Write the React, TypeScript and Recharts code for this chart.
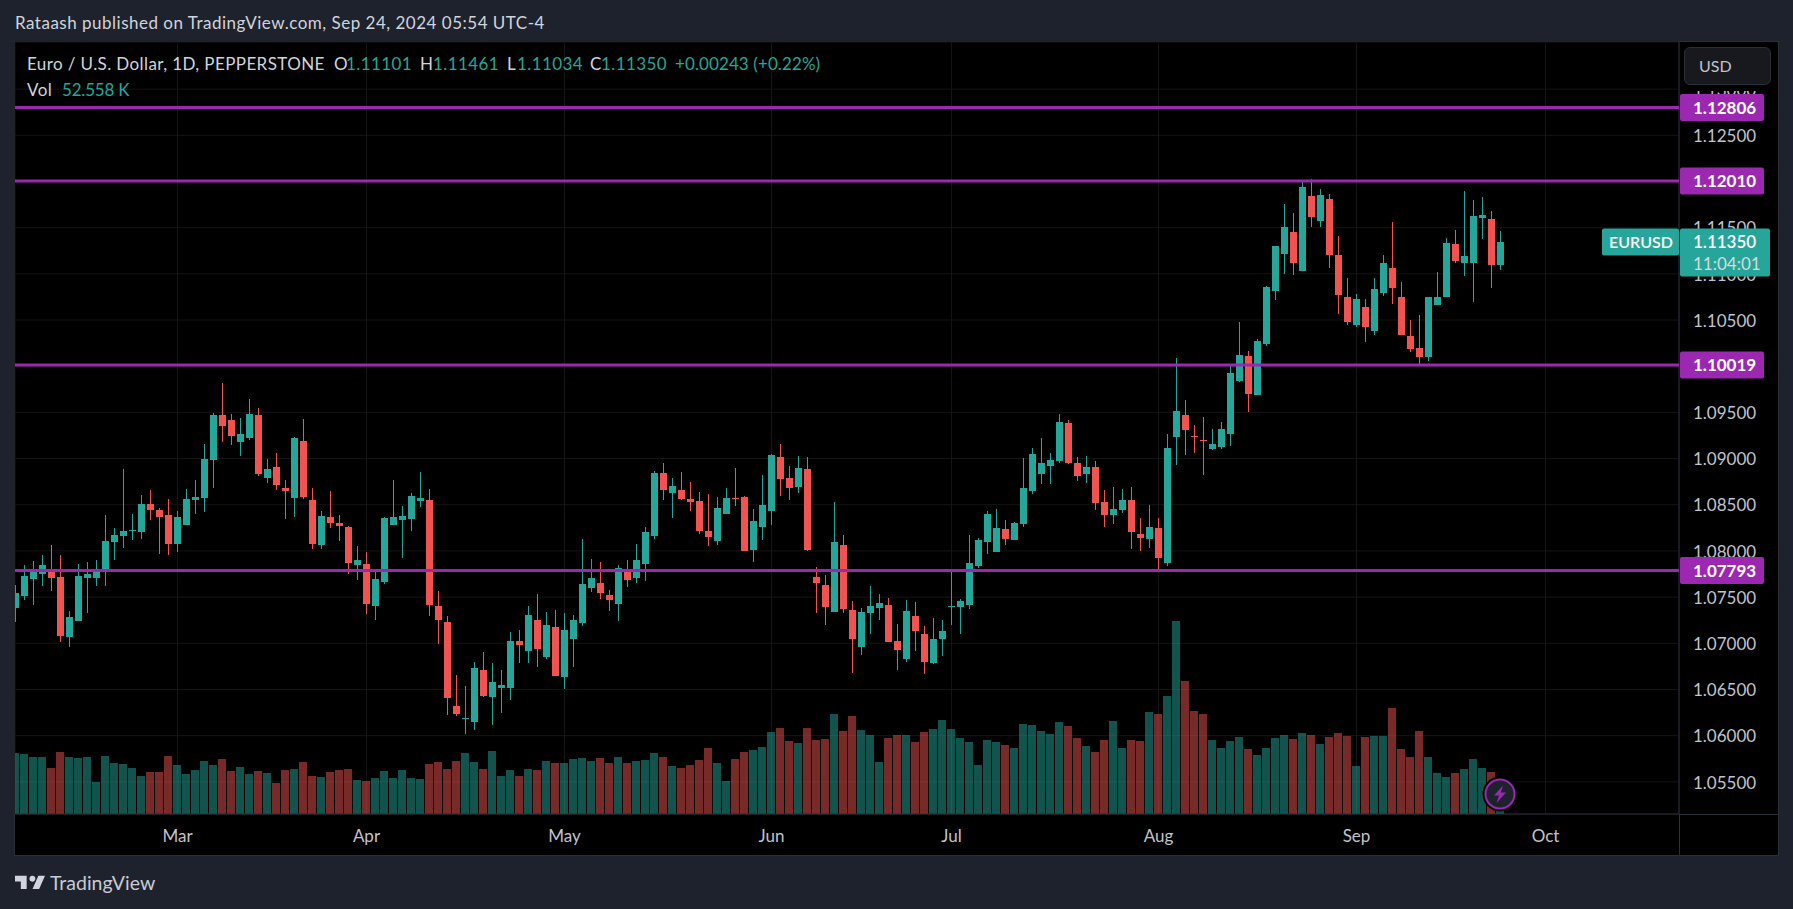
import React from 'react';
import { Bar, CartesianGrid, ComposedChart, ReferenceLine, XAxis, YAxis } from 'recharts';

const opens = [
  1.07381, 1.07507, 1.07691, 1.07746, 1.07778, 1.07713, 1.07063, 1.07236, 1.07702, 1.07702,
  1.07778, 1.08092, 1.08157, 1.08211, 1.082, 1.08504, 1.08439, 1.08384, 1.0807, 1.08276,
  1.08547, 1.08569, 1.0898, 1.09467, 1.09413, 1.09175, 1.09218, 1.09467, 1.08785, 1.08904,
  1.08677, 1.08569, 1.09186, 1.08547, 1.0806, 1.08363, 1.08298, 1.08255, 1.07852, 1.07863,
  1.07408, 1.07668, 1.08285, 1.08339, 1.0835, 1.08545, 1.08556, 1.07408, 1.07235, 1.06325,
  1.06184, 1.06152, 1.06715, 1.06422, 1.0652, 1.0652, 1.07029, 1.06921, 1.07256, 1.06856,
  1.07181, 1.06639, 1.07051, 1.07224, 1.07603, 1.07657, 1.07527, 1.0743, 1.07809, 1.07711,
  1.07863, 1.08166, 1.08848, 1.08632, 1.08664, 1.08567, 1.08545, 1.0822, 1.08112, 1.08404,
  1.08578, 1.08588, 1.08014, 1.08264, 1.08437, 1.09022, 1.08794, 1.08697, 1.08892, 1.07722,
  1.07635, 1.07343, 1.08069, 1.07365, 1.06964, 1.07332, 1.07386, 1.07419, 1.07029, 1.06834,
  1.073, 1.07105, 1.06791, 1.07051, 1.07397, 1.07397, 1.07419, 1.07841, 1.08101, 1.07993,
  1.08242, 1.08123, 1.08296, 1.08653, 1.0883, 1.08917, 1.08971, 1.09384, 1.08949, 1.0883,
  1.08906, 1.08535, 1.08387, 1.0844, 1.08546, 1.08184, 1.08131, 1.08248, 1.07865, 1.09232,
  1.09471, 1.09243, 1.09199, 1.09101, 1.09123, 1.09264, 1.0984, 1.10111, 1.09688, 1.10242,
  1.10817, 1.1122, 1.11448, 1.11036, 1.11839, 1.11568, 1.11807, 1.11199, 1.10753, 1.10449,
  1.10645, 1.10384, 1.10797, 1.11068, 1.10753, 1.1033, 1.102, 1.10102, 1.10667, 1.10753,
  1.11318, 1.11112, 1.11112, 1.116, 1.1159, 1.11101,
];

const highs = [
  1.07626, 1.07843, 1.07886, 1.07951, 1.0806, 1.07951, 1.07345, 1.07854, 1.07875, 1.07897,
  1.08384, 1.08244, 1.08883, 1.08395, 1.08601, 1.08655, 1.0846, 1.08558, 1.08428, 1.08666,
  1.08764, 1.09153, 1.09489, 1.09814, 1.09478, 1.09435, 1.09641, 1.09543, 1.08991, 1.09056,
  1.08764, 1.09229, 1.09424, 1.08677, 1.08428, 1.08644, 1.08384, 1.08265, 1.08058, 1.07993,
  1.07798, 1.08372, 1.08773, 1.08491, 1.08632, 1.08859, 1.08675, 1.0757, 1.073, 1.06661,
  1.06542, 1.06801, 1.0691, 1.06791, 1.06715, 1.07126, 1.07148, 1.07408, 1.07538, 1.07343,
  1.07365, 1.07332, 1.0731, 1.08134, 1.07917, 1.07884, 1.07581, 1.07852, 1.07906, 1.08079,
  1.08264, 1.0887, 1.08957, 1.08794, 1.08859, 1.08751, 1.08643, 1.08621, 1.08588, 1.08686,
  1.08903, 1.08599, 1.08458, 1.08827, 1.09054, 1.09162, 1.08924, 1.09032, 1.09022, 1.0783,
  1.07744, 1.08534, 1.08177, 1.07462, 1.07386, 1.07625, 1.07538, 1.07495, 1.07213, 1.07473,
  1.07451, 1.07191, 1.07278, 1.07256, 1.07776, 1.07484, 1.08177, 1.08144, 1.08437, 1.08458,
  1.08339, 1.08318, 1.09011, 1.09119, 1.09221, 1.09058, 1.09481, 1.09416, 1.09014, 1.09025,
  1.08971, 1.08663, 1.08695, 1.08674, 1.08695, 1.08355, 1.08493, 1.08355, 1.09264, 1.1009,
  1.09634, 1.09362, 1.09449, 1.09319, 1.09395, 1.10003, 1.10481, 1.10166, 1.10296, 1.10872,
  1.11306, 1.11753, 1.11655, 1.12013, 1.12024, 1.11915, 1.11861, 1.11405, 1.1096, 1.10786,
  1.10732, 1.1096, 1.11199, 1.11557, 1.10916, 1.10504, 1.10558, 1.10753, 1.11025, 1.11383,
  1.1147, 1.11894, 1.11796, 1.11829, 1.11677, 1.11461,
];

const lows = [
  1.07229, 1.07464, 1.0741, 1.07616, 1.07561, 1.07009, 1.06955, 1.07236, 1.07323, 1.07616,
  1.07616, 1.07897, 1.08027, 1.08114, 1.08125, 1.0833, 1.07962, 1.07951, 1.07984, 1.08276,
  1.08395, 1.08417, 1.08677, 1.09175, 1.09143, 1.09023, 1.09197, 1.08807, 1.08731, 1.08655,
  1.08341, 1.08363, 1.08558, 1.08016, 1.08016, 1.08244, 1.08103, 1.07746, 1.0769, 1.07321,
  1.07256, 1.07646, 1.08285, 1.07928, 1.0822, 1.0848, 1.073, 1.06996, 1.06227, 1.06217,
  1.06018, 1.06061, 1.06422, 1.06119, 1.06249, 1.0639, 1.06791, 1.06791, 1.06747, 1.06834,
  1.0665, 1.06509, 1.06747, 1.07191, 1.0756, 1.07484, 1.07354, 1.07246, 1.07614, 1.07657,
  1.07679, 1.08134, 1.08556, 1.08361, 1.08556, 1.08437, 1.08188, 1.08058, 1.08069, 1.08404,
  1.08491, 1.08004, 1.07884, 1.08123, 1.08285, 1.08599, 1.08556, 1.08632, 1.08004, 1.07332,
  1.07202, 1.07343, 1.07332, 1.06682, 1.06877, 1.07105, 1.07256, 1.07018, 1.06715, 1.06801,
  1.06921, 1.06672, 1.0678, 1.06866, 1.07202, 1.07105, 1.07375, 1.07819, 1.07971, 1.07993,
  1.08069, 1.08123, 1.08264, 1.08621, 1.08721, 1.08721, 1.08949, 1.08938, 1.08754, 1.08732,
  1.0844, 1.08259, 1.08291, 1.08418, 1.08025, 1.07993, 1.08025, 1.07791, 1.07833, 1.08928,
  1.09036, 1.09058, 1.08819, 1.0909, 1.09101, 1.09134, 1.09829, 1.09503, 1.09688, 1.1022,
  1.1072, 1.10992, 1.10981, 1.11025, 1.11503, 1.11503, 1.11057, 1.10558, 1.10449, 1.10428,
  1.10265, 1.10341, 1.10753, 1.10667, 1.10341, 1.10156, 1.10026, 1.10058, 1.10667, 1.10743,
  1.11112, 1.10971, 1.10688, 1.11372, 1.1084, 1.11034,
];

const closes = [
  1.0754, 1.07724, 1.07778, 1.07843, 1.07702, 1.07074, 1.0728, 1.07724, 1.07746, 1.078,
  1.08103, 1.08168, 1.08211, 1.08222, 1.08504, 1.08439, 1.08363, 1.0807, 1.08363, 1.08558,
  1.08579, 1.08991, 1.09467, 1.09348, 1.0924, 1.09262, 1.09478, 1.08829, 1.08883, 1.08709,
  1.08644, 1.09218, 1.08579, 1.0807, 1.08374, 1.08298, 1.08265, 1.07865, 1.07906, 1.0743,
  1.077, 1.08361, 1.08372, 1.08383, 1.08599, 1.08578, 1.07419, 1.07256, 1.06412, 1.06238,
  1.06195, 1.06736, 1.06433, 1.06585, 1.06552, 1.07029, 1.06986, 1.0731, 1.06942, 1.07202,
  1.0665, 1.07148, 1.07256, 1.07646, 1.07711, 1.07549, 1.07473, 1.07819, 1.0769, 1.07906,
  1.08209, 1.08848, 1.08664, 1.08708, 1.08567, 1.08534, 1.0822, 1.08155, 1.08469, 1.08578,
  1.08567, 1.08004, 1.08329, 1.08502, 1.09043, 1.08783, 1.08686, 1.08903, 1.08014, 1.07657,
  1.07397, 1.08101, 1.07375, 1.07051, 1.07343, 1.07408, 1.0744, 1.07018, 1.06931, 1.07354,
  1.07137, 1.06801, 1.07051, 1.07137, 1.07408, 1.07462, 1.07874, 1.08123, 1.08404, 1.08253,
  1.08134, 1.08307, 1.08686, 1.09054, 1.08949, 1.08982, 1.09395, 1.08949, 1.08808, 1.08906,
  1.08514, 1.08387, 1.0845, 1.08546, 1.08206, 1.08142, 1.08259, 1.07918, 1.09112, 1.09514,
  1.09308, 1.09232, 1.09188, 1.09156, 1.09319, 1.09927, 1.10122, 1.09699, 1.10274, 1.10861,
  1.11306, 1.11503, 1.11112, 1.11937, 1.11611, 1.1185, 1.11199, 1.10775, 1.10482, 1.10732,
  1.10428, 1.1084, 1.11112, 1.10851, 1.10341, 1.10189, 1.10102, 1.10753, 1.10753, 1.11329,
  1.11134, 1.11188, 1.11622, 1.11633, 1.11101, 1.1135,
];

// tick volume in thousands
const volumes = [
  213.5, 210, 199.5, 199.5, 161, 217, 199.5, 196, 199.5, 112,
  203, 178.5, 175, 161, 133, 147, 147, 203, 171.5, 140,
  154, 185.5, 171.5, 192.5, 150.5, 164.5, 140, 150.5, 143.5, 108.5,
  154, 157.5, 182, 133, 129.5, 147, 154, 157.5, 119, 115.5,
  126, 150.5, 126, 154, 126, 122.5, 175, 182, 157.5, 185.5,
  213.5, 182, 157.5, 220.5, 133, 154, 133, 157.5, 154, 185.5,
  178.5, 178.5, 192.5, 196, 185.5, 196, 178.5, 199.5, 178.5, 185.5,
  189, 213.5, 199.5, 168, 161, 171.5, 189, 231, 178.5, 115.5,
  192.5, 217, 224, 234.5, 287, 301, 255.5, 248.5, 301, 259,
  262.5, 350, 290.5, 343, 294, 276.5, 182, 266, 276.5, 276.5,
  252, 287, 297.5, 329, 297.5, 266, 252, 171.5, 259, 252,
  241.5, 231, 315, 311.5, 290.5, 280, 322, 308, 266, 238,
  217, 259, 325.5, 231, 259, 255.5, 357, 350, 413, 675.5,
  465.5, 360.5, 350, 259, 231, 255.5, 269.5, 227.5, 206.5, 231,
  266, 276.5, 262.5, 283.5, 276.5, 245, 269.5, 283.5, 273, 168,
  269.5, 273, 273, 371, 227.5, 199.5, 290.5, 199.5, 143.5, 129.5,
  143.5, 157.5, 192.5, 161, 147, 52.558,
];

const monthTicks = [18, 39, 61, 84, 104, 127, 149, 170];
const monthLabels = ['Mar', 'Apr', 'May', 'Jun', 'Jul', 'Aug', 'Sep', 'Oct'];
const priceTicks = [1.055, 1.06, 1.065, 1.07, 1.075, 1.08, 1.085, 1.09, 1.095, 1.1, 1.105, 1.11, 1.115, 1.12, 1.125, 1.13];
const levels = [1.12806, 1.1201, 1.10019, 1.07793];

const UP = '#26a69a';
const DOWN = '#f05350';
const PURPLE = '#9c27b0';
const PAGE = '#1e222d';
const EDGE = '#2a2e39';
const AXIS_TEXT = '#c0c3cb';
const FONT = 'Lato, sans-serif';
const PRICE_DOMAIN = [1.051516, 1.135102];

const data = opens.map((open, i) => ({
  index: i,
  open,
  high: highs[i],
  low: lows[i],
  close: closes[i],
  volume: volumes[i],
}));

// x comes in 3.5px left of the candle centre, so the 7px body starts right on it
const Candle = (props: any) => {
  const { x, y, height, payload } = props;
  const { open, high, low, close } = payload;
  const left = Math.round(x);
  const perUnit = Math.abs(height) / (high - low);
  const top = Math.min(y, y + height);
  const bodyTop = Math.round(top + (high - Math.max(open, close)) * perUnit);
  const bodyBottom = Math.round(top + (high - Math.min(open, close)) * perUnit);
  const fill = close >= open ? UP : DOWN;
  return (
    <g shapeRendering="crispEdges">
      <rect x={left + 3} y={Math.round(top)} width={1} height={Math.round(Math.abs(height))} fill={fill} />
      <rect x={left} y={bodyTop} width={7} height={Math.max(1, bodyBottom - bodyTop)} fill={fill} />
    </g>
  );
};

const VolumeBar = (props: any) => {
  const { x, y, height, payload } = props;
  return (
    <rect
      x={Math.round(x) - 1}
      y={Math.round(y)}
      width={8}
      height={Math.round(height)}
      fill={payload.close >= payload.open ? UP : DOWN}
      fillOpacity={0.5}
      shapeRendering="crispEdges"
    />
  );
};

const PriceTag = (props: any) => {
  const { viewBox, price } = props;
  const y = viewBox.y;
  const left = viewBox.x + viewBox.width + 1;
  return (
    <g>
      <rect x={left} y={y - 13.5} width={84} height={27} rx={2} fill={PURPLE} />
      <text x={left + 13} y={y + 6} fill="#fff" fontFamily={FONT} fontWeight={700} fontSize={17}>
        {price.toFixed(5)}
      </text>
    </g>
  );
};

const LastPriceTag = (props: any) => {
  const { viewBox, price } = props;
  const y = viewBox.y;
  const axisX = viewBox.x + viewBox.width;
  return (
    <g fontFamily={FONT} fontSize={17}>
      <rect x={axisX - 77} y={y - 13.5} width={77} height={27} rx={2} fill={UP} />
      <text x={axisX - 70} y={y + 6} fill="#fff" fontWeight={600} fontSize={16}>EURUSD</text>
      <rect x={axisX + 1} y={y - 13.5} width={90} height={48} rx={2} fill={UP} />
      <text x={axisX + 14} y={y + 6} fill="#fff" fontWeight={600}>{price.toFixed(5)}</text>
      <text x={axisX + 14} y={y + 28} fill="#d5dbdb">11:04:01</text>
    </g>
  );
};

const Legend = () => {
  const label = { color: '#d1d4dc' };
  const value = { color: UP };
  const pos = (left: number, top: number): React.CSSProperties => ({ position: 'absolute', left, top, whiteSpace: 'pre' });
  return (
    <div style={{ position: 'absolute', left: 0, top: 0, fontFamily: FONT, fontSize: 17, lineHeight: '20px', letterSpacing: 0.4 }}>
      <span style={{ ...pos(27, 54), ...label }}>Euro / U.S. Dollar, 1D, PEPPERSTONE</span>
      <span style={{ ...pos(334, 54), ...label }}>O</span>
      <span style={{ ...pos(346, 54), ...value }}>1.11101</span>
      <span style={{ ...pos(420, 54), ...label }}>H</span>
      <span style={{ ...pos(433, 54), ...value }}>1.11461</span>
      <span style={{ ...pos(507, 54), ...label }}>L</span>
      <span style={{ ...pos(517, 54), ...value }}>1.11034</span>
      <span style={{ ...pos(590, 54), ...label }}>C</span>
      <span style={{ ...pos(601, 54), ...value }}>1.11350</span>
      <span style={{ ...pos(675, 54), ...value, letterSpacing: 0.1 }}>+0.00243 (+0.22%)</span>
      <span style={{ ...pos(27, 80), ...label }}>Vol</span>
      <span style={{ ...pos(62, 80), ...value, letterSpacing: -0.2 }}>52.558 K</span>
    </div>
  );
};

const ZapBadge = () => (
  <svg width={36} height={36} viewBox="0 0 36 36" style={{ position: 'absolute', left: 1482, top: 776 }}>
    <circle cx={18} cy={18} r={17.5} fill="#000" />
    <circle cx={18} cy={18} r={14.5} fill={PAGE} stroke={PURPLE} strokeWidth={2} />
    <path d="M21 9.5 12 19.5h5l-2.5 7.5 9.5-10.5h-5.2L21 9.5Z" fill={PURPLE} />
  </svg>
);

const App = () => (
  <div style={{ position: 'absolute', left: 0, top: 0, width: 1793, height: 909, background: PAGE, overflow: 'hidden' }}>
    <div style={{ position: 'absolute', left: 15, top: 14, color: '#d1d4dc', fontFamily: FONT, fontSize: 17, letterSpacing: 0.5, lineHeight: '18px', whiteSpace: 'pre' }}>
      Rataash published on TradingView.com, Sep 24, 2024 05:54 UTC-4
    </div>
    <div style={{ position: 'absolute', left: 14, top: 41, width: 1763, height: 813, background: '#000', border: `1px solid ${EDGE}` }} />
    <div style={{ position: 'absolute', left: 0, top: 0 }}>
      <ComposedChart width={1793} height={909} data={data} margin={{ top: 42, right: 15, bottom: 54, left: 15 }} barGap={0}>
        <CartesianGrid xAxisId="time" yAxisId="price" stroke="#141414" />
        <XAxis
          xAxisId="time"
          type="number"
          dataKey="index"
          domain={[-0.0556, 184.833]}
          allowDataOverflow
          ticks={monthTicks}
          interval={0}
          height={41}
          tickLine={false}
          tickMargin={10}
          axisLine={{ stroke: EDGE }}
          tick={{ fill: AXIS_TEXT, fontFamily: FONT, fontSize: 17 }}
          tickFormatter={(v: number) => monthLabels[monthTicks.indexOf(v)]}
        />
        <XAxis xAxisId="vol" type="number" dataKey="index" domain={[-0.0556, 184.833]} allowDataOverflow ticks={monthTicks} hide />
        <YAxis
          yAxisId="price"
          orientation="right"
          width={99}
          domain={PRICE_DOMAIN}
          allowDataOverflow
          ticks={priceTicks}
          interval={0}
          tickLine={false}
          tickMargin={8}
          axisLine={{ stroke: EDGE }}
          tick={{ fill: AXIS_TEXT, fontFamily: FONT, fontSize: 17, dy: 0.7 }}
          tickFormatter={(v: number) => v.toFixed(5)}
        />
        <YAxis yAxisId="volume" orientation="left" width={0} domain={[0, 2702]} hide />
        <Bar xAxisId="vol" yAxisId="volume" dataKey="volume" barSize={8} shape={VolumeBar} isAnimationActive={false} />
        <Bar
          xAxisId="time"
          yAxisId="price"
          dataKey={(d: any) => [d.low, d.high]}
          barSize={8}
          shape={Candle}
          isAnimationActive={false}
        />
      </ComposedChart>
    </div>
    <div style={{ position: 'absolute', left: 1679, top: 814, width: 99, height: 1, background: EDGE }} />
    <div style={{ position: 'absolute', left: 1679, top: 814, width: 1, height: 41, background: EDGE }} />
    <div style={{ position: 'absolute', left: 1680, top: 42, width: 97, height: 49, background: '#000' }} />
    {/* second chart on top so the price tags cover the axis labels */}
    <div style={{ position: 'absolute', left: 0, top: 0 }}>
      <ComposedChart width={1793} height={909} data={data} margin={{ top: 42.5, right: 114, bottom: 94.5, left: 15 }}>
        <XAxis xAxisId="time" type="number" dataKey="index" domain={[-0.0556, 184.833]} allowDataOverflow hide />
        <YAxis yAxisId="price" domain={PRICE_DOMAIN} allowDataOverflow hide />
        {levels.map((level) => (
          <ReferenceLine
            key={level}
            xAxisId="time"
            yAxisId="price"
            y={level}
            stroke={PURPLE}
            strokeWidth={3}
            label={<PriceTag price={level} />}
          />
        ))}
        <ReferenceLine
          xAxisId="time"
          yAxisId="price"
          y={closes[closes.length - 1]}
          strokeOpacity={0}
          label={<LastPriceTag price={closes[closes.length - 1]} />}
        />
      </ComposedChart>
    </div>
    <div
      style={{
        position: 'absolute', left: 1684, top: 47, width: 85, height: 36, background: '#17191f', border: `1px solid ${EDGE}`, borderRadius: 6,
        color: '#c0c3cb', fontFamily: FONT, fontSize: 16, lineHeight: '36px', textIndent: 14,
      }}
    >
      USD
    </div>
    <Legend />
    <ZapBadge />
    <svg width={30} height={16} viewBox="0 0 36 19" style={{ position: 'absolute', left: 15, top: 874 }}>
      <path d="M14 2H0v7h7v9h7V2Zm15 16h-8l7-16h8l-7 16Zm-9-9a3.6 3.6 0 1 0 0-7 3.6 3.6 0 0 0 0 7Z" fill="#d1d4dc" />
    </svg>
    <div style={{ position: 'absolute', left: 50, top: 871, color: '#c8cbd3', fontFamily: FONT, fontSize: 19.5, lineHeight: '24px' }}>
      TradingView
    </div>
  </div>
);

export default App;
